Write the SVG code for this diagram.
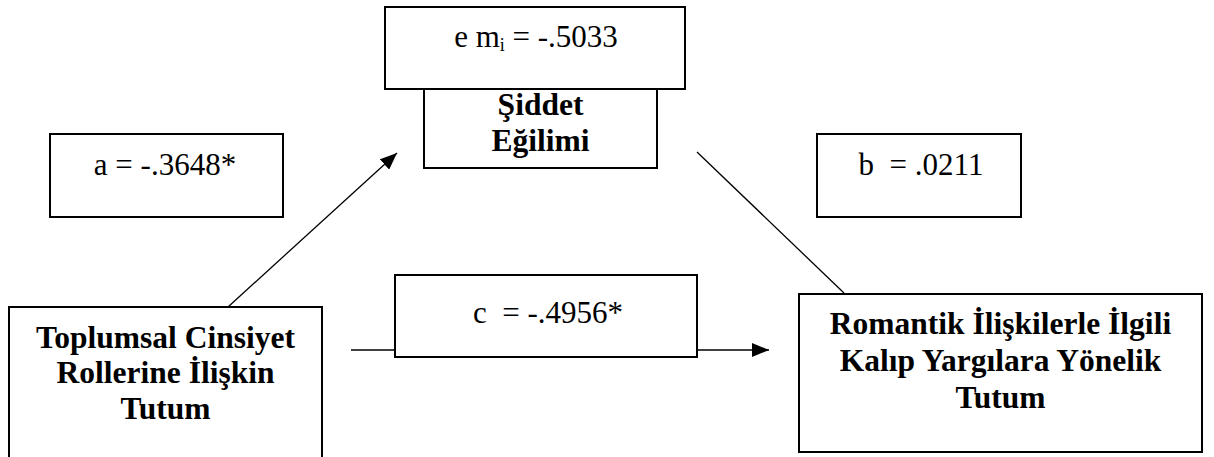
<svg xmlns="http://www.w3.org/2000/svg" width="1214" height="457" viewBox="0 0 1214 457">
  <style>
    .box { fill: #ffffff; stroke: #000000; stroke-width: 2; }
    .link { fill: none; stroke: #000000; stroke-width: 1.3; }
    .node-text { font-family: "Liberation Serif", "Times New Roman", serif; font-weight: bold; font-size: 31.5px; fill: #000000; text-anchor: middle; }
    .coef { font-family: "Liberation Serif", "Times New Roman", serif; font-size: 31px; fill: #000000; text-anchor: middle; }
  </style>
  <defs>
    <marker id="arrow" markerUnits="userSpaceOnUse" markerWidth="18" markerHeight="14" refX="17" refY="7" orient="auto">
      <path d="M0,0 L17,7 L0,14 z" fill="#000000"/>
    </marker>
  </defs>

  <rect width="1214" height="457" fill="#ffffff"/>

  <!-- paths between the variables -->
  <g id="connectors">
    <line class="link" x1="228" y1="307" x2="397" y2="153" marker-end="url(#arrow)"/>
    <line class="link" x1="697" y1="152" x2="844" y2="293"/>
    <line class="link" x1="351" y1="350" x2="769" y2="350" marker-end="url(#arrow)"/>
  </g>

  <!-- mediator -->
  <g id="node-siddet">
    <rect class="box" x="424" y="70" width="233" height="98"/>
    <text class="node-text" x="540.5" y="115">Şiddet</text>
    <text class="node-text" x="540.5" y="151">Eğilimi</text>
  </g>

  <!-- indirect effect label -->
  <g id="label-emi">
    <rect class="box" x="385" y="7" width="300" height="82"/>
    <text class="coef" x="536" y="47" font-size="29px">e m<tspan dy="4" font-size="18px">i</tspan><tspan dy="-4"> = -.5033</tspan></text>
  </g>

  <!-- predictor -->
  <g id="node-toplumsal">
    <rect class="box" x="9" y="307" width="313" height="170"/>
    <text class="node-text" x="165.5" y="348">Toplumsal Cinsiyet</text>
    <text class="node-text" x="165.5" y="383">Rollerine İlişkin</text>
    <text class="node-text" x="165.5" y="419">Tutum</text>
  </g>

  <!-- outcome -->
  <g id="node-romantik">
    <rect class="box" x="799" y="294" width="403" height="158"/>
    <text class="node-text" x="1000.5" y="334">Romantik İlişkilerle İlgili</text>
    <text class="node-text" x="1000.5" y="371">Kalıp Yargılara Yönelik</text>
    <text class="node-text" x="1000.5" y="408">Tutum</text>
  </g>

  <!-- path coefficients -->
  <g id="label-a">
    <rect class="box" x="50" y="134" width="233" height="83"/>
    <text class="coef" x="165" y="175">a = -.3648*</text>
  </g>

  <g id="label-b">
    <rect class="box" x="817" y="134" width="204" height="83"/>
    <text class="coef" x="921" y="175" xml:space="preserve">b  = .0211</text>
  </g>

  <g id="label-c">
    <rect class="box" x="395" y="275" width="302" height="82"/>
    <text class="coef" x="548" y="323" xml:space="preserve">c  = -.4956*</text>
  </g>
</svg>
